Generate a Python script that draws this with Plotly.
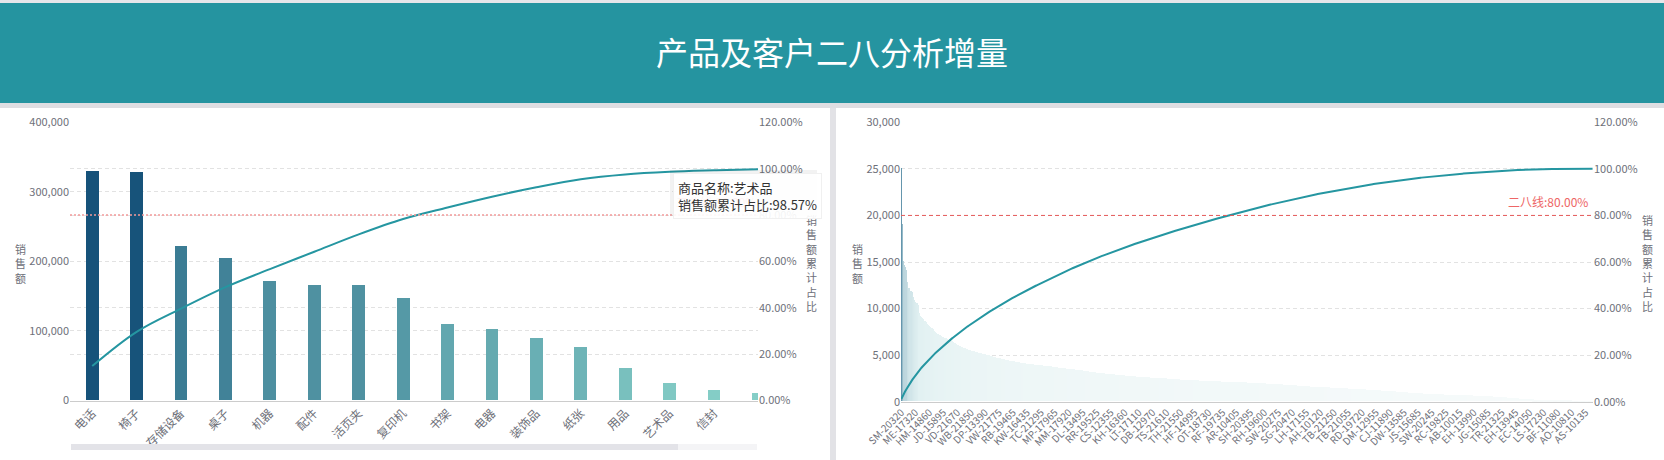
import numpy as np
import plotly.graph_objects as go

W, H = 1664, 460

# 左图：各子类销售额（按降序）
products = ["电话", "椅子", "存储设备", "桌子", "机器", "配件", "活页夹", "复印机",
            "书架", "电器", "装饰品", "纸张", "用品", "艺术品", "信封", "标签", "系固件"]
product_sales = [329000, 327500, 222000, 205000, 172000, 166000, 166000, 147000,
                 110000, 103000, 90000, 77000, 45600, 25000, 14000, 11000, 5000]

# 右图：各客户销售额（按降序，共 793 位客户）
customer_sales = [
    25040, 19050, 15120, 14600, 14470, 14180, 14140, 12870, 12210, 12130, 11890, 11820, 11790, 11470, 11160, 10880, 10660, 10550, 10520, 10310,
    9450, 9330, 9130, 9010, 8930, 8800, 8680, 8600, 8480, 8370, 8300, 8190, 8090, 8010, 7930, 7840, 7760, 7660, 7560, 7440,
    7330, 7270, 7220, 7160, 7110, 7050, 7000, 6950, 6900, 6860, 6810, 6770, 6720, 6680, 6630, 6580, 6530, 6480, 6440, 6400,
    6350, 6290, 6230, 6170, 6110, 6050, 5990, 5940, 5890, 5850, 5810, 5770, 5730, 5690, 5650, 5610, 5570, 5540, 5510, 5480,
    5450, 5420, 5400, 5370, 5340, 5310, 5290, 5260, 5230, 5210, 5190, 5170, 5150, 5130, 5110, 5080, 5060, 5030, 5010, 4990,
    4960, 4930, 4900, 4870, 4840, 4810, 4780, 4750, 4730, 4710, 4690, 4670, 4640, 4610, 4590, 4570, 4550, 4530, 4510, 4490,
    4470, 4450, 4430, 4410, 4390, 4370, 4350, 4330, 4310, 4290, 4270, 4250, 4230, 4210, 4200, 4180, 4160, 4140, 4120, 4110,
    4090, 4080, 4070, 4050, 4040, 4030, 4020, 4010, 4000, 3990, 3980, 3970, 3960, 3950, 3940, 3930, 3920, 3910, 3900, 3890,
    3880, 3870, 3860, 3850, 3840, 3830, 3820, 3810, 3800, 3790, 3780, 3760, 3750, 3740, 3720, 3710, 3700, 3680, 3670, 3650,
    3640, 3630, 3610, 3600, 3590, 3570, 3560, 3550, 3540, 3520, 3510, 3500, 3490, 3480, 3470, 3460, 3450, 3440, 3430, 3420,
    3410, 3400, 3380, 3370, 3360, 3340, 3330, 3320, 3300, 3290, 3280, 3260, 3250, 3230, 3220, 3210, 3190, 3180, 3170, 3150,
    3140, 3130, 3120, 3100, 3090, 3080, 3070, 3060, 3050, 3040, 3030, 3020, 3010, 3000, 2990, 2980, 2970, 2960, 2950, 2940,
    2930, 2920, 2910, 2900, 2890, 2880, 2870, 2860, 2850, 2840, 2830, 2820, 2810, 2800, 2800, 2790, 2780, 2770, 2760, 2750,
    2740, 2730, 2730, 2720, 2710, 2700, 2700, 2690, 2680, 2670, 2670, 2660, 2650, 2640, 2640, 2630, 2620, 2610, 2610, 2600,
    2590, 2590, 2580, 2570, 2570, 2560, 2560, 2550, 2550, 2540, 2540, 2530, 2530, 2520, 2510, 2510, 2500, 2500, 2490, 2480,
    2480, 2470, 2460, 2460, 2450, 2440, 2440, 2430, 2420, 2420, 2410, 2400, 2400, 2390, 2380, 2380, 2370, 2360, 2360, 2350,
    2350, 2340, 2340, 2330, 2330, 2320, 2320, 2310, 2310, 2300, 2300, 2290, 2290, 2280, 2280, 2270, 2270, 2260, 2260, 2250,
    2250, 2240, 2240, 2230, 2230, 2220, 2220, 2220, 2210, 2210, 2200, 2200, 2200, 2190, 2190, 2180, 2180, 2170, 2170, 2160,
    2160, 2160, 2150, 2150, 2150, 2140, 2140, 2130, 2130, 2130, 2120, 2120, 2110, 2110, 2110, 2100, 2100, 2090, 2090, 2080,
    2080, 2080, 2070, 2070, 2070, 2060, 2060, 2060, 2050, 2050, 2050, 2040, 2040, 2040, 2030, 2030, 2020, 2020, 2010, 2010,
    2000, 2000, 1990, 1990, 1990, 1980, 1980, 1970, 1970, 1960, 1960, 1950, 1950, 1950, 1940, 1940, 1930, 1930, 1920, 1920,
    1915, 1910, 1905, 1900, 1900, 1895, 1890, 1890, 1885, 1880, 1875, 1870, 1860, 1855, 1850, 1840, 1830, 1820, 1810, 1800,
    1790, 1780, 1780, 1770, 1760, 1760, 1750, 1740, 1740, 1730, 1720, 1720, 1710, 1700, 1700, 1690, 1680, 1680, 1670, 1660,
    1660, 1650, 1640, 1640, 1630, 1630, 1620, 1610, 1610, 1600, 1600, 1590, 1590, 1580, 1580, 1570, 1570, 1560, 1560, 1550,
    1550, 1540, 1540, 1530, 1530, 1520, 1520, 1510, 1510, 1500, 1500, 1490, 1490, 1480, 1480, 1470, 1470, 1460, 1460, 1450,
    1450, 1440, 1440, 1430, 1430, 1420, 1420, 1410, 1400, 1400, 1390, 1390, 1380, 1380, 1370, 1370, 1360, 1360, 1350, 1350,
    1340, 1340, 1330, 1330, 1320, 1320, 1310, 1300, 1300, 1290, 1290, 1280, 1280, 1270, 1270, 1260, 1250, 1250, 1240, 1240,
    1230, 1230, 1220, 1210, 1210, 1200, 1200, 1190, 1190, 1180, 1170, 1170, 1160, 1160, 1150, 1140, 1140, 1130, 1120, 1120,
    1110, 1100, 1100, 1090, 1080, 1070, 1070, 1060, 1050, 1040, 1040, 1030, 1020, 1010, 1010, 1000, 990, 980, 980, 970,
    960, 950, 950, 940, 930, 920, 920, 910, 900, 900, 890, 880, 880, 870, 860, 860, 850, 850, 840, 830,
    830, 820, 820, 810, 810, 800, 800, 790, 790, 780, 780, 780, 770, 770, 770, 760, 760, 760, 750, 750,
    750, 750, 740, 740, 740, 730, 730, 730, 720, 720, 720, 710, 710, 710, 700, 700, 700, 690, 690, 690,
    680, 680, 680, 670, 670, 670, 660, 660, 660, 650, 650, 650, 640, 640, 640, 630, 630, 630, 620, 620,
    610, 610, 600, 600, 590, 590, 580, 580, 570, 570, 560, 560, 550, 550, 540, 540, 530, 530, 520, 510,
    510, 500, 500, 490, 480, 480, 470, 460, 460, 450, 440, 440, 430, 420, 410, 400, 400, 390, 380, 370,
    360, 360, 350, 340, 340, 330, 320, 320, 310, 300, 300, 290, 280, 280, 270, 260, 260, 250, 240, 240,
    230, 230, 220, 210, 210, 200, 200, 190, 180, 180, 170, 160, 160, 150, 140, 140, 130, 120, 110, 100,
    100, 95, 95, 90, 90, 88, 85, 85, 82, 80, 78, 76, 75, 72, 70, 68, 66, 64, 62, 60,
    58, 56, 54, 52, 50, 48, 47, 45, 44, 42, 40, 38, 36, 35, 33, 32, 30, 28, 26, 25,
    24, 22, 20, 18, 16, 14, 12, 10, 9, 7, 5, 4, 2,
]

# 右图横轴只显示每 16 位客户的 ID
customer_ticks = [
    "SM-20320", "ME-17320", "HM-14860", "JD-15895", "VD-21670", "WB-21850", "DP-13390", "VW-21775",
    "RB-19465", "KW-16435", "TC-21295", "MP-17965", "MM-17920", "DL-13495", "RR-19525", "CS-12355",
    "KH-16360", "LT-17110", "DB-12970", "TS-21610", "TH-21550", "HF-14995", "OT-18730", "RF-19735",
    "AR-10405", "SH-20395", "RH-19600", "SW-20275", "SG-20470", "LH-17155", "AH-10120", "TB-21250",
    "TB-21055", "RD-19720", "DM-12955", "CJ-11890", "DW-13585", "JS-15685", "SW-20245", "RC-19825",
    "AB-10015", "EH-13990", "JG-15085", "TR-21325", "EH-13945", "EC-14050", "LS-17230", "BF-11080",
    "AO-10810", "AS-10135",
]


def px(x):
    return x / W


def py(y):
    return 1 - y / H


FONT = "Noto Sans CJK SC"
LABEL = "#6e7079"
TEAL = "#2596a1"
GRID = dict(showgrid=True, gridcolor="#e2e2e2", griddash="4px,3px", gridwidth=1,
            zeroline=False, showline=False, ticks="", automargin=False,
            tickfont=dict(size=11, color=LABEL, family=FONT))
XAX = dict(showgrid=False, zeroline=False, showline=True, linecolor="#cccccc",
           ticks="", tickangle=-45, automargin=False)

prod_cum = np.cumsum(product_sales) / np.sum(product_sales)
cust_idx = list(range(len(customer_sales)))
cust_cum = np.cumsum(customer_sales) / np.sum(customer_sales)

fig = go.Figure()

fig.add_trace(go.Bar(
    x=products, y=product_sales, width=0.29,
    marker=dict(color=product_sales, colorscale=[[0, "#87d0c8"], [1, "#16527a"]],
                cmin=min(product_sales), cmax=max(product_sales), line=dict(width=0)),
    xaxis="x", yaxis="y"))
fig.add_trace(go.Scatter(
    x=products, y=prod_cum, mode="lines",
    line=dict(color=TEAL, width=2, shape="spline"), xaxis="x", yaxis="y2"))

fig.add_trace(go.Bar(
    x=cust_idx, y=customer_sales, width=0.4,
    marker=dict(color=customer_sales,
                colorscale=[[0, "#f7fbfb"], [0.4, "#e0f0f1"], [1, "#6596ad"]],
                cmin=0, cmax=max(customer_sales), line=dict(width=0)),
    xaxis="x2", yaxis="y3"))
fig.add_trace(go.Scatter(
    x=cust_idx, y=cust_cum, mode="lines",
    line=dict(color=TEAL, width=2), xaxis="x2", yaxis="y4"))

fig.update_layout(
    width=W, height=H, autosize=False,
    margin=dict(l=0, r=0, t=0, b=0, pad=0, autoexpand=False),
    paper_bgcolor="white", plot_bgcolor="rgba(0,0,0,0)",
    showlegend=False, hovermode=False, bargap=0,
    font=dict(family=FONT, color=LABEL),
    xaxis=dict(domain=[px(70), px(758)], anchor="y", type="category",
               range=[-0.5, 14.99], tickfont=dict(size=12, color=LABEL, family=FONT), **XAX),
    yaxis=dict(domain=[py(400.5), py(122.3)], range=[0, 400000], dtick=100000,
               tickformat=",", **GRID),
    yaxis2=dict(overlaying="y", side="right", anchor="x", range=[0, 1.2], dtick=0.2,
                tickformat=".2%", **GRID),
    xaxis2=dict(domain=[px(901), px(1593)], anchor="y3",
                range=[-0.5, len(customer_sales) - 0.5],
                tickvals=cust_idx[::16][:len(customer_ticks)], ticktext=customer_ticks,
                tickfont=dict(size=10, color=LABEL, family=FONT), **XAX),
    yaxis3=dict(domain=[py(401.7), py(122.3)], anchor="x2", range=[0, 30000], dtick=5000,
                tickformat=",", **GRID),
    yaxis4=dict(overlaying="y3", side="right", anchor="x2", range=[0, 1.2], dtick=0.2,
                tickformat=".2%", **GRID),
)

shapes = [
    # 顶部细条、标题栏及阴影
    dict(type="rect", xref="paper", yref="paper", x0=0, x1=1, y0=py(3), y1=1,
         fillcolor="#e6e6ea", line_width=0),
    dict(type="rect", xref="paper", yref="paper", x0=0, x1=1, y0=py(103), y1=py(3),
         fillcolor="#2594a0", line_width=0),
    dict(type="rect", xref="paper", yref="paper", x0=0, x1=1, y0=py(108), y1=py(103),
         fillcolor="#dedee2", line_width=0),
    # 两个面板之间的分隔
    dict(type="rect", xref="paper", yref="paper", x0=px(830), x1=px(836), y0=0, y1=py(108),
         fillcolor="#e2e2e6", line_width=0),
    # 二八线
    dict(type="line", xref="x domain", yref="y2", x0=0, x1=1, y0=0.8, y1=0.8,
         line=dict(color="#f29b9b", width=1.5, dash="2px,2px")),
    dict(type="line", xref="x2 domain", yref="y4", x0=0, x1=1, y0=0.8, y1=0.8,
         line=dict(color="#e65a5a", width=1, dash="4px,3px")),
    # 左图下方的缩放滚动条
    dict(type="rect", xref="paper", yref="paper", x0=px(71), x1=px(757), y0=py(450), y1=py(444),
         fillcolor="#f4f4f6", line_width=0),
    dict(type="rect", xref="paper", yref="paper", x0=px(71), x1=px(678), y0=py(450), y1=py(444),
         fillcolor="#e3e3e8", line_width=0),
    # 提示框阴影
    dict(type="rect", xref="paper", yref="paper", x0=px(670), x1=px(817), y0=py(216), y1=py(170),
         fillcolor="rgba(0,0,0,0.05)", line_width=0),
]
fig.update_layout(shapes=shapes)

vt = dict(xref="paper", yref="paper", showarrow=False, xanchor="center", yanchor="middle",
          font=dict(size=11, color=LABEL, family=FONT), align="center")
red = dict(xref="paper", yref="paper", xanchor="right", yanchor="bottom", showarrow=False,
           font=dict(size=12, color="#ee6666", family=FONT))
annotations = [
    dict(text="产品及客户二八分析增量", x=0.5, y=py(51), xref="paper", yref="paper",
         xanchor="center", yanchor="middle", showarrow=False,
         font=dict(size=32, color="white", family=FONT)),
    dict(text="<br>".join("销售额"), x=px(20), y=py(263), **vt),
    dict(text="<br>".join("销售额累计占比"), x=px(811), y=py(263), **vt),
    dict(text="<br>".join("销售额"), x=px(857), y=py(263), **vt),
    dict(text="<br>".join("销售额累计占比"), x=px(1647), y=py(263), **vt),
    dict(text="二八线:80.00%", x=px(758), y=py(212), **red),
    dict(text="二八线:80.00%", x=px(1590), y=py(212), **red),
    # 悬停提示框
    dict(text="商品名称:艺术品<br>销售额累计占比:98.57%", x=px(673), y=py(173),
         xref="paper", yref="paper", xanchor="left", yanchor="top", showarrow=False,
         align="left", bgcolor="rgba(255,255,255,0.92)", bordercolor="#f0f0f0",
         borderwidth=1, borderpad=4, font=dict(size=13, color="#333333", family=FONT)),
]
fig.update_layout(annotations=annotations)

# 去掉页面默认边距，使图表贴满窗口；隐藏工具栏
fig.write_html("out.html", config={"displayModeBar": False},
               post_script="document.body.style.margin = '0';")
